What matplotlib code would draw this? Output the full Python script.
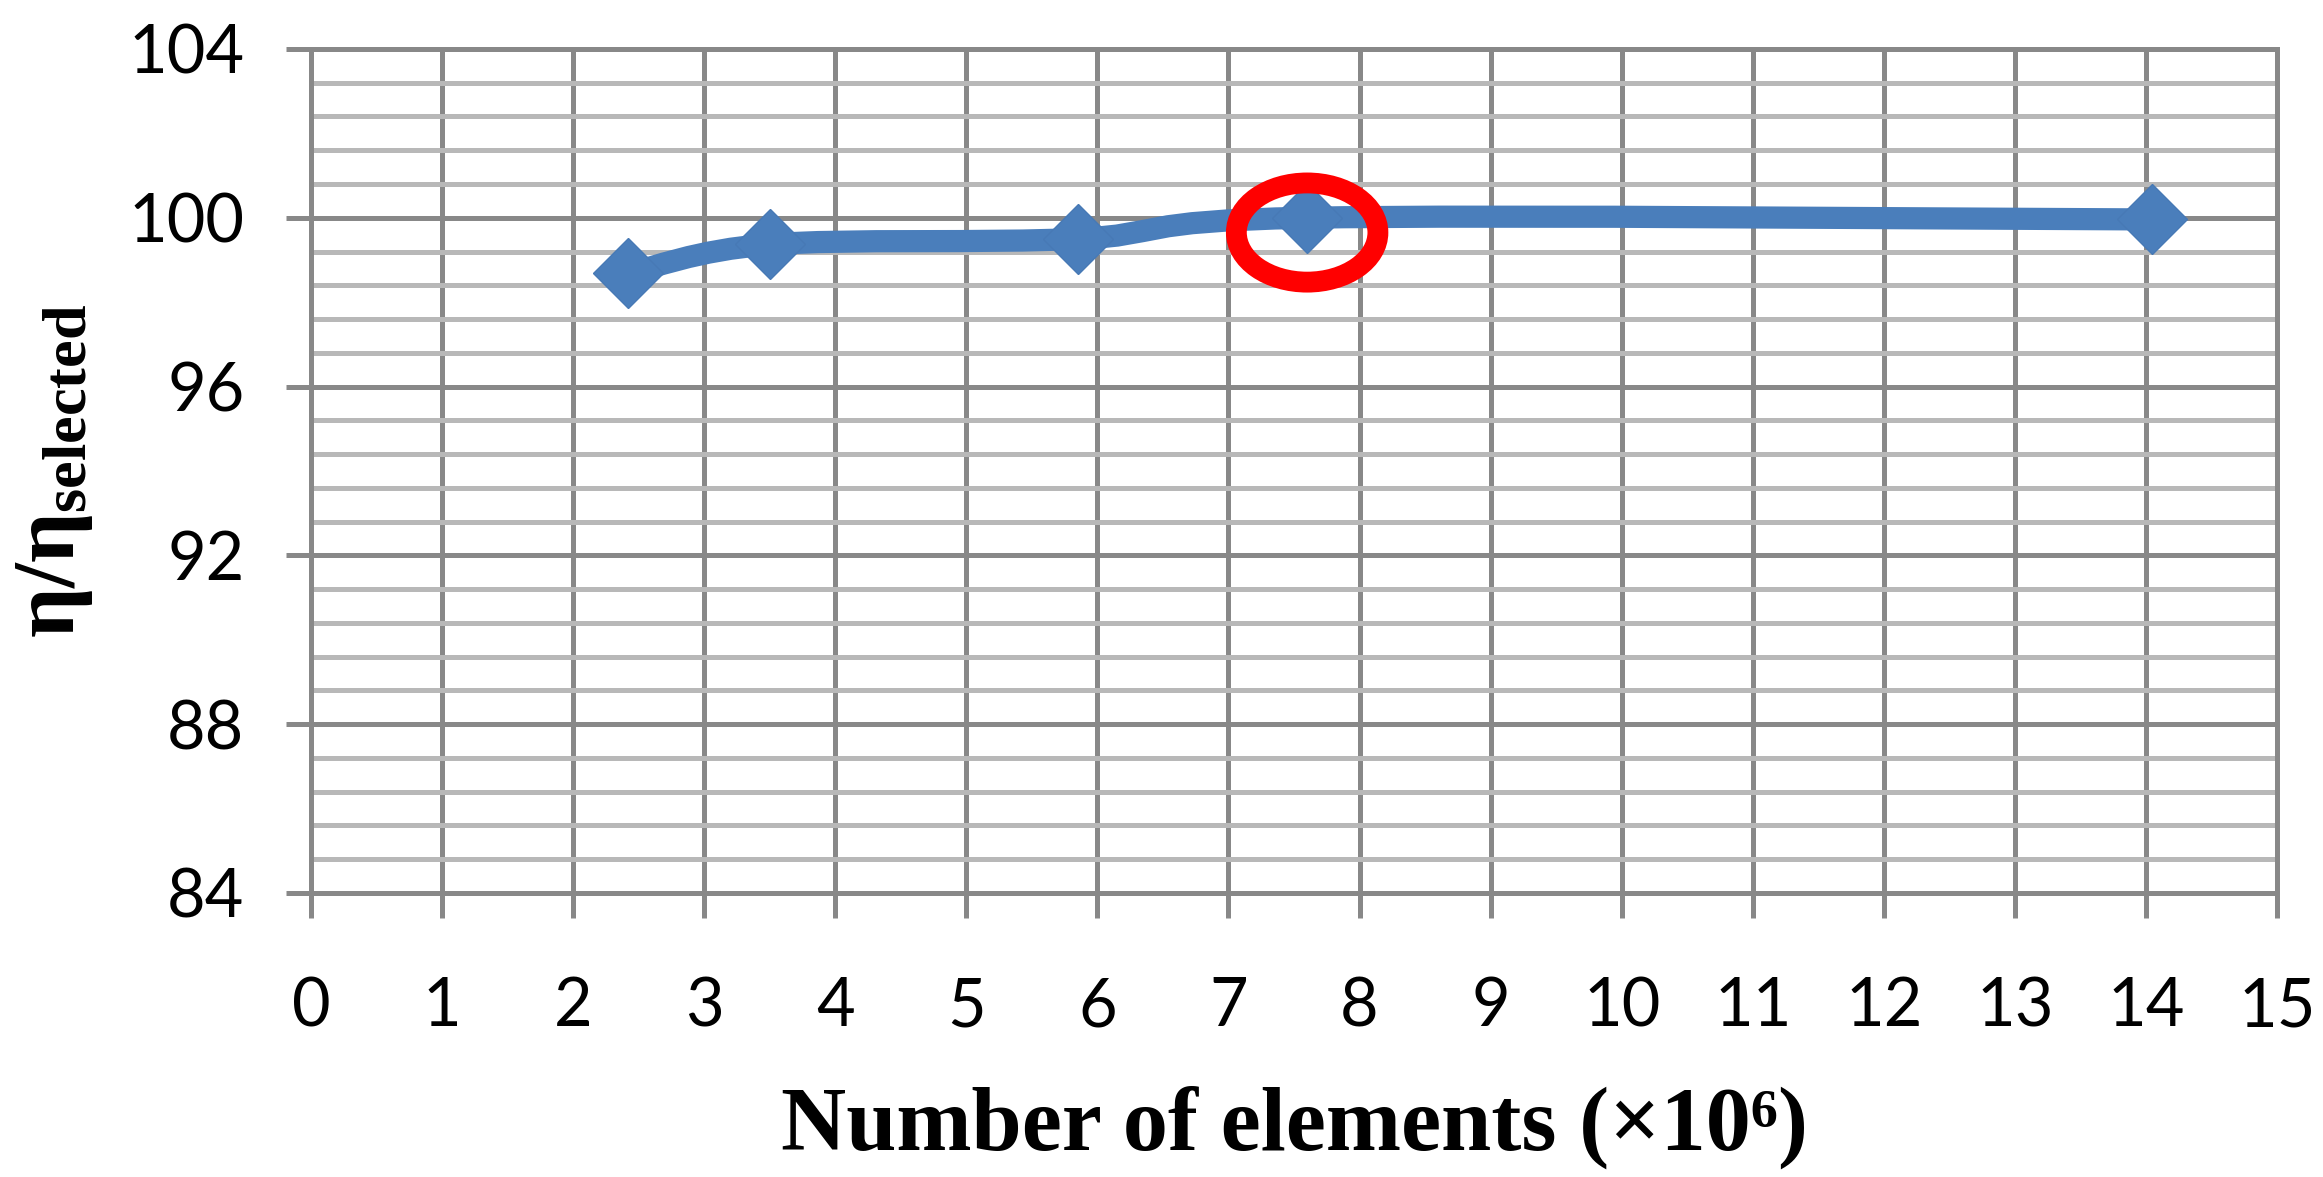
import matplotlib
matplotlib.use('Agg')
import matplotlib.pyplot as plt
import numpy as np
from matplotlib.path import Path
from matplotlib.patches import PathPatch, Ellipse

# Данные
elements = [2.42, 3.5, 5.85, 7.6, 14.05]        # число элементов (x10^6)
ratio = [98.68, 99.37, 99.5, 100.0, 99.96]       # eta / eta_selected

x_ticks = list(range(0, 16))
y_ticks = [84, 88, 92, 96, 100, 104]

# выделенная сетка (красный эллипс)
selected_x = 7.6
selected_y = 99.65

BLUE = '#4a7ebb'
DARK = '#888888'
LIGHT = '#b8b8b8'


def smooth_path(xs, ys):
    # сглаженная линия как в Excel (кубические Безье, катмулл-ром)
    pts = np.column_stack([xs, ys])
    verts = [pts[0]]
    codes = [Path.MOVETO]
    n = len(pts)
    for i in range(n - 1):
        p0 = pts[i - 1] if i > 0 else pts[i]
        p1 = pts[i]
        p2 = pts[i + 1]
        p3 = pts[i + 2] if i + 2 < n else pts[i + 1]
        c1 = p1 + (p2 - p0) / 6.0
        c2 = p2 - (p3 - p1) / 6.0
        verts += [c1, c2, p2]
        codes += [Path.CURVE4] * 3
    return Path(verts, codes)


def main():
    plt.rcParams['mathtext.fontset'] = 'custom'
    plt.rcParams['mathtext.rm'] = 'Liberation Serif:bold'
    plt.rcParams['mathtext.bf'] = 'Liberation Serif:bold'
    plt.rcParams['mathtext.it'] = 'Liberation Serif:bold'

    fig = plt.figure(figsize=(23.23, 11.77), dpi=100)
    ax = fig.add_axes([0.1339, 0.2413, 0.8463, 0.7171])

    ax.set_xlim(0, 15)
    ax.set_ylim(84, 104)
    ax.set_xticks(x_ticks)
    ax.set_yticks(y_ticks)
    ax.set_yticks(np.arange(84, 104.01, 0.8), minor=True)

    ax.grid(which='major', color=DARK, linewidth=3.6)
    ax.grid(which='minor', axis='y', color=LIGHT, linewidth=3.6)
    ax.set_axisbelow(True)
    for s in ax.spines.values():
        s.set_color(DARK)
        s.set_linewidth(3.6)

    ax.tick_params(which='major', length=18, width=3.6, color=DARK)
    ax.tick_params(axis='x', pad=42)
    ax.tick_params(axis='y', pad=30)
    ax.tick_params(which='minor', length=0)
    tick_font = dict(family=['Liberation Sans Narrow', 'Lato'], size=48)
    ax.set_xticklabels([str(t) for t in x_ticks], **tick_font)
    ax.set_yticklabels([str(t) for t in y_ticks], **tick_font)

    # линия и маркеры
    patch = PathPatch(smooth_path(elements, ratio), facecolor='none',
                      edgecolor=BLUE, linewidth=16, capstyle='round', zorder=3)
    ax.add_patch(patch)
    ax.plot(elements, ratio, linestyle='none', marker='D', markersize=36,
            color=BLUE, markeredgecolor='#4779b5', zorder=4)

    ax.add_patch(Ellipse((selected_x, selected_y), 1.08, 2.35, facecolor='none',
                         edgecolor='red', linewidth=15, zorder=5))

    ax.set_xlabel('Number of elements (×10⁶)', family='Liberation Serif',
                  fontweight='bold', fontsize=65, labelpad=34)
    ax.set_ylabel(r'$\eta/\eta_{selected}$', fontsize=64, labelpad=24)

    fig.savefig('out.png', dpi=100)


if __name__ == '__main__':
    main()
